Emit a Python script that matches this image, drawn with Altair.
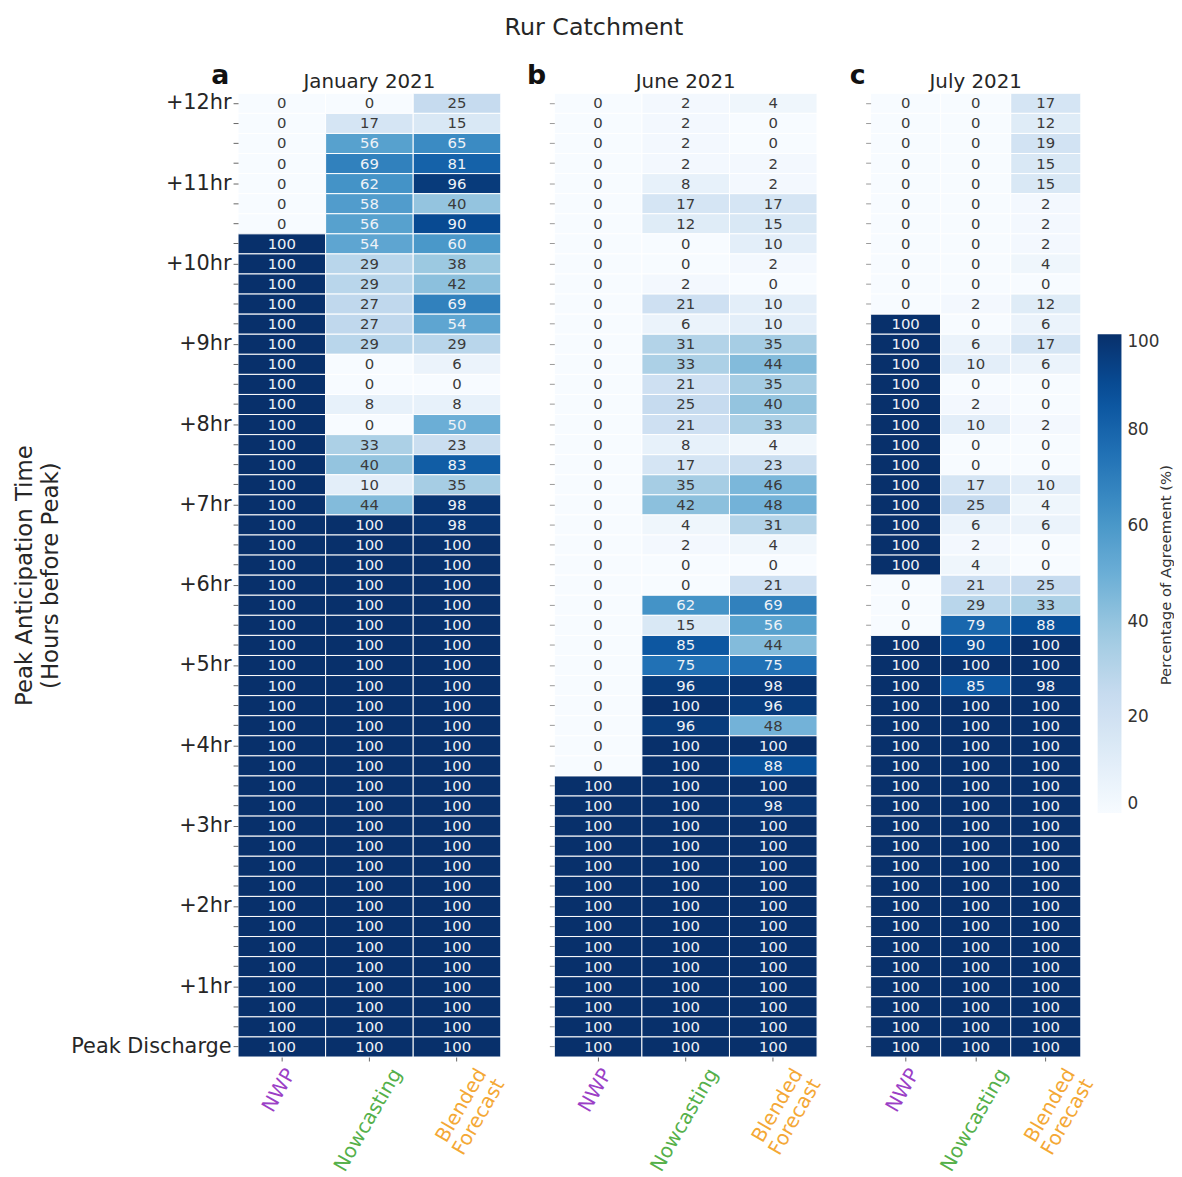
import json
import altair as alt
import pandas as pd

COLUMNS = ["NWP", "Nowcasting", "Blended Forecast"]

ROW_LABELS = [
    "+12hr", "", "", "", "+11hr", "", "", "", "+10hr", "", "", "",
    "+9hr", "", "", "", "+8hr", "", "", "", "+7hr", "", "", "",
    "+6hr", "", "", "", "+5hr", "", "", "", "+4hr", "", "", "",
    "+3hr", "", "", "", "+2hr", "", "", "", "+1hr", "", "", "Peak Discharge",
]

jan_nwp = [0, 0, 0, 0, 0, 0, 0, 100, 100, 100, 100, 100,
           100, 100, 100, 100, 100, 100, 100, 100, 100, 100, 100, 100,
           100, 100, 100, 100, 100, 100, 100, 100, 100, 100, 100, 100,
           100, 100, 100, 100, 100, 100, 100, 100, 100, 100, 100, 100]
jan_now = [0, 17, 56, 69, 62, 58, 56, 54, 29, 29, 27, 27,
           29, 0, 0, 8, 0, 33, 40, 10, 44, 100, 100, 100,
           100, 100, 100, 100, 100, 100, 100, 100, 100, 100, 100, 100,
           100, 100, 100, 100, 100, 100, 100, 100, 100, 100, 100, 100]
jan_blend = [25, 15, 65, 81, 96, 40, 90, 60, 38, 42, 69, 54,
             29, 6, 0, 8, 50, 23, 83, 35, 98, 98, 100, 100,
             100, 100, 100, 100, 100, 100, 100, 100, 100, 100, 100, 100,
             100, 100, 100, 100, 100, 100, 100, 100, 100, 100, 100, 100]

jun_nwp = [0, 0, 0, 0, 0, 0, 0, 0, 0, 0, 0, 0,
           0, 0, 0, 0, 0, 0, 0, 0, 0, 0, 0, 0,
           0, 0, 0, 0, 0, 0, 0, 0, 0, 0, 100, 100,
           100, 100, 100, 100, 100, 100, 100, 100, 100, 100, 100, 100]
jun_now = [2, 2, 2, 2, 8, 17, 12, 0, 0, 2, 21, 6,
           31, 33, 21, 25, 21, 8, 17, 35, 42, 4, 2, 0,
           0, 62, 15, 85, 75, 96, 100, 96, 100, 100, 100, 100,
           100, 100, 100, 100, 100, 100, 100, 100, 100, 100, 100, 100]
jun_blend = [4, 0, 0, 2, 2, 17, 15, 10, 2, 0, 10, 10,
             35, 44, 35, 40, 33, 4, 23, 46, 48, 31, 4, 0,
             21, 69, 56, 44, 75, 98, 96, 48, 100, 88, 100, 98,
             100, 100, 100, 100, 100, 100, 100, 100, 100, 100, 100, 100]

jul_nwp = [0, 0, 0, 0, 0, 0, 0, 0, 0, 0, 0, 100,
           100, 100, 100, 100, 100, 100, 100, 100, 100, 100, 100, 100,
           0, 0, 0, 100, 100, 100, 100, 100, 100, 100, 100, 100,
           100, 100, 100, 100, 100, 100, 100, 100, 100, 100, 100, 100]
jul_now = [0, 0, 0, 0, 0, 0, 0, 0, 0, 0, 2, 0,
           6, 10, 0, 2, 10, 0, 0, 17, 25, 6, 2, 4,
           21, 29, 79, 90, 100, 85, 100, 100, 100, 100, 100, 100,
           100, 100, 100, 100, 100, 100, 100, 100, 100, 100, 100, 100]
jul_blend = [17, 12, 19, 15, 15, 2, 2, 2, 4, 0, 12, 6,
             17, 6, 0, 0, 2, 0, 0, 10, 4, 6, 0, 0,
             25, 33, 88, 100, 100, 98, 100, 100, 100, 100, 100, 100,
             100, 100, 100, 100, 100, 100, 100, 100, 100, 100, 100, 100]

BLUES = ["#f7fbff", "#deebf7", "#c6dbef", "#9ecae1", "#6baed6",
         "#4292c6", "#2171b5", "#08519c", "#08306b"]
BLUES_DOMAIN = [0, 12.5, 25, 37.5, 50, 62.5, 75, 87.5, 100]

TEXT_DARK = "#262626"


def make_df(nwp, now, blend):
    rows = []
    for col, vals in zip(COLUMNS, [nwp, now, blend]):
        for i, v in enumerate(vals):
            rows.append({"model": col, "row": i, "value": v})
    return pd.DataFrame(rows)


label_color = {
    "condition": [
        {"test": "datum.value === 'NWP'", "value": "#9b3fc6"},
        {"test": "datum.value === 'Nowcasting'", "value": "#55b04a"},
    ],
    "value": "#f4a835",
}
label_offset = {
    "condition": [
        {"test": "datum.value === 'NWP'", "value": 9},
        {"test": "datum.value === 'Nowcasting'", "value": 28},
    ],
    "value": 25,
}


def panel(df, month, letter, width, first, legend, extra=None):
    x_axis = alt.Axis(
        title=None, labelAngle=-60, labelAlign="right", labelBaseline="middle",
        labelFontSize=20, labelPadding=9, tickSize=4, tickColor="#666",
        domain=False, labelColor=label_color, labelOffset=label_offset,
        labelLineHeight=21,
        labelExpr="datum.value === 'Blended Forecast' ? ['Blended', 'Forecast'] : datum.value",
    )
    if first:
        y_axis = alt.Axis(
            title=["Peak Anticipation Time", "(Hours before Peak)"],
            titleFontSize=23, titleFontWeight="normal", titleColor=TEXT_DARK,
            titleLineHeight=26, titlePadding=8.5,
            labelExpr=json.dumps(ROW_LABELS) + "[datum.value]",
            labelFontSize=21, labelColor=TEXT_DARK, labelPadding=2,
            tickSize=5, tickColor="#666", domain=False,
        )
    else:
        y_axis = alt.Axis(title=None, labels=False, tickSize=5, tickColor="#999",
                          domain=False)

    base = alt.Chart(df).encode(
        x=alt.X("model:N", sort=COLUMNS, axis=x_axis),
        y=alt.Y("row:O", axis=y_axis),
    )
    rect = base.mark_rect(stroke="white", strokeWidth=1).encode(
        color=alt.Color(
            "value:Q",
            scale=alt.Scale(domain=BLUES_DOMAIN, range=BLUES, interpolate="rgb"),
            legend=legend,
        )
    )
    text = base.mark_text(fontSize=15).encode(
        text="value:Q",
        color=alt.condition("datum.value >= 49", alt.value("#eef2f7"), alt.value("#3a3a3a")),
    )
    let = alt.Chart(pd.DataFrame({"t": [letter]})).mark_text(
        fontSize=27, fontWeight="bold", align="center", baseline="middle", color="#111"
    ).encode(text="t:N", x=alt.value(-18 if letter != "c" else -13), y=alt.value(-17))
    mon = alt.Chart(pd.DataFrame({"t": [month]})).mark_text(
        fontSize=20, align="center", baseline="alphabetic", color=TEXT_DARK
    ).encode(text="t:N", x=alt.value(width / 2), y=alt.value(-5))
    layers = [rect, text, let, mon]
    if extra is not None:
        layers.append(extra)
    return alt.layer(*layers).properties(width=width, height=972)


legend = alt.Legend(
    orient="none", legendX=229, legendY=243, direction="vertical",
    gradientLength=483, gradientThickness=24, values=[0, 20, 40, 60, 80, 100],
    labelFontSize=17, labelOffset=6, labelColor="#333", labelBaseline="middle",
    title=None, gradientStrokeWidth=0,
)

cbar_title = alt.Chart(pd.DataFrame({"t": ["Percentage of Agreement (%)"]})).mark_text(
    fontSize=15, angle=270, align="center", baseline="middle", color="#333"
).encode(text="t:N", x=alt.value(298), y=alt.value(486))

pa = panel(make_df(jan_nwp, jan_now, jan_blend), "January 2021", "a", 265, True, None)
pb = panel(make_df(jun_nwp, jun_now, jun_blend), "June 2021", "b", 265, False, None)
pc = panel(make_df(jul_nwp, jul_now, jul_blend), "July 2021", "c", 212, False, legend,
           extra=cbar_title)

chart = alt.hconcat(
    pa, pb, pc, spacing=54, bounds="flush",
    title=alt.TitleParams("Rur Catchment", fontSize=24, fontWeight="normal",
                          color=TEXT_DARK, anchor="middle", offset=23),
).resolve_scale(color="independent").properties(
    padding={"left": 5, "top": 3, "right": 0, "bottom": 0}
).configure(font="DejaVu Sans").configure_view(stroke=None).configure_axis(grid=False)

chart.save("out.html", embed_options={"renderer": "svg", "actions": False})
